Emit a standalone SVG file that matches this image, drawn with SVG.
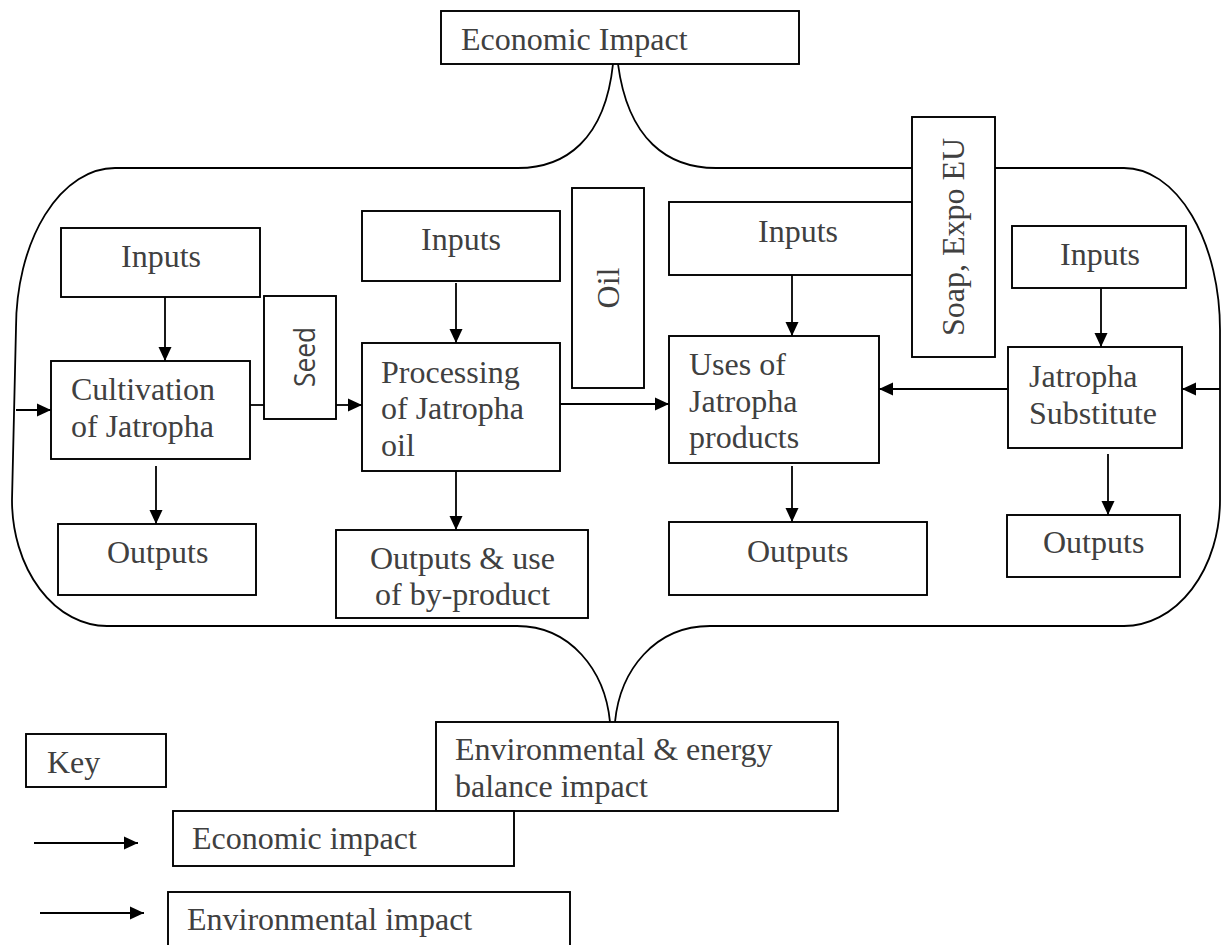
<svg xmlns="http://www.w3.org/2000/svg" width="1223" height="945" viewBox="0 0 1223 945">
<style>
.b{fill:#fff;stroke:#000;stroke-width:1.9}
.t{font-family:"Liberation Serif","Times New Roman",serif;font-size:32px;fill:#404040}
.s{font-family:"Open Sans","Liberation Sans",sans-serif;font-size:30px;fill:#404040}
.c{fill:none;stroke:#000;stroke-width:1.8}
.a{fill:none;stroke:#000;stroke-width:1.8;marker-end:url(#ah)}
</style>
<defs>
<marker id="ah" markerWidth="14" markerHeight="14" viewBox="0 0 14 14" refX="14" refY="7" orient="auto" markerUnits="userSpaceOnUse">
<path d="M0,0.5 L14,7 L0,13.5 Z" fill="#000"/>
</marker>
</defs>
<g id="brace">
<path class="c" d="M613,64 C605,140 565,168 518,168 L115,168 A99,160 0 0 0 16,328 L12,500 A95,126 0 0 0 107,626 L517,626 C570,626 605,670 610,722"/>
<path class="c" d="M618,64 C628,140 668,168 716,168 L1124,168 A96,162 0 0 1 1220,330 L1220,500 A96,126 0 0 1 1124,626 L710,626 C655,626 620,670 615,722"/>
</g>
<g id="connectors">
<line class="a" x1="165" y1="297" x2="165" y2="361"/>
<line class="a" x1="156" y1="466" x2="156" y2="524"/>
<line class="a" x1="16" y1="410" x2="51" y2="410"/>
<line class="c" x1="250" y1="405" x2="264" y2="405"/>
<line class="a" x1="336" y1="405" x2="362" y2="405"/>
<line class="a" x1="456" y1="283" x2="456" y2="343"/>
<line class="a" x1="456" y1="471" x2="456" y2="530"/>
<line class="a" x1="560" y1="404" x2="669" y2="404"/>
<line class="a" x1="792" y1="275" x2="792" y2="336"/>
<line class="a" x1="792" y1="466" x2="792" y2="522"/>
<line class="a" x1="1007" y1="389" x2="879" y2="389"/>
<line class="a" x1="1220" y1="389" x2="1182" y2="389"/>
<line class="a" x1="1101" y1="288" x2="1101" y2="347"/>
<line class="a" x1="1108" y1="454" x2="1108" y2="515"/>
<line class="a" x1="34" y1="843" x2="138" y2="843"/>
<line class="a" x1="40" y1="913" x2="144" y2="913"/>
</g>
<g id="economic-impact">
<rect class="b" x="441" y="11" width="358" height="53"/>
<text class="t" x="461" y="50">Economic Impact</text>
</g>
<g id="inputs1">
<rect class="b" x="61" y="228" width="199" height="69"/>
<text class="t" x="121" y="267">Inputs</text>
</g>
<g id="cultivation">
<rect class="b" x="51" y="361" width="199" height="98"/>
<text class="t" x="71" y="400">Cultivation</text>
<text class="t" x="71" y="437">of Jatropha</text>
</g>
<g id="seed">
<rect class="b" x="264" y="296" width="72" height="123"/>
<text class="s" x="303" y="357" text-anchor="middle" dominant-baseline="central" textLength="60" lengthAdjust="spacingAndGlyphs" transform="rotate(-90 303 357)">Seed</text>
</g>
<g id="outputs1">
<rect class="b" x="58" y="524" width="198" height="71"/>
<text class="t" x="107" y="563">Outputs</text>
</g>
<g id="inputs2">
<rect class="b" x="362" y="211" width="198" height="70"/>
<text class="t" x="421" y="250">Inputs</text>
</g>
<g id="processing">
<rect class="b" x="362" y="343" width="198" height="128"/>
<text class="t" x="381" y="383">Processing</text>
<text class="t" x="381" y="419">of Jatropha</text>
<text class="t" x="381" y="456">oil</text>
</g>
<g id="outputs2">
<rect class="b" x="336" y="530" width="252" height="88"/>
<text class="t" x="370" y="569">Outputs &amp; use</text>
<text class="t" x="375" y="605">of by-product</text>
</g>
<g id="oil">
<rect class="b" x="572" y="188" width="72" height="200"/>
<text class="t" x="608" y="288" text-anchor="middle" dominant-baseline="central" transform="rotate(-90 608 288)">Oil</text>
</g>
<g id="inputs3">
<rect class="b" x="669" y="202" width="243" height="73"/>
<text class="t" x="758" y="242">Inputs</text>
</g>
<g id="soap">
<rect class="b" x="912" y="117" width="83" height="240"/>
<text class="t" x="953" y="237" text-anchor="middle" dominant-baseline="central" transform="rotate(-90 953 237)">Soap, Expo EU</text>
</g>
<g id="uses">
<rect class="b" x="669" y="336" width="210" height="127"/>
<text class="t" x="689" y="375">Uses of</text>
<text class="t" x="689" y="412">Jatropha</text>
<text class="t" x="689" y="448">products</text>
</g>
<g id="outputs3">
<rect class="b" x="669" y="522" width="258" height="73"/>
<text class="t" x="747" y="562">Outputs</text>
</g>
<g id="inputs4">
<rect class="b" x="1012" y="226" width="174" height="62"/>
<text class="t" x="1060" y="265">Inputs</text>
</g>
<g id="substitute">
<rect class="b" x="1008" y="347" width="174" height="101"/>
<text class="t" x="1029" y="387">Jatropha</text>
<text class="t" x="1029" y="424">Substitute</text>
</g>
<g id="outputs4">
<rect class="b" x="1007" y="515" width="173" height="62"/>
<text class="t" x="1043" y="553">Outputs</text>
</g>
<g id="env-impact">
<rect class="b" x="436" y="722" width="402" height="89"/>
<text class="t" x="455" y="760">Environmental &amp; energy</text>
<text class="t" x="455" y="797">balance impact</text>
</g>
<g id="key">
<rect class="b" x="26" y="734" width="140" height="53"/>
<text class="t" x="47" y="773">Key</text>
</g>
<g id="key-economic">
<rect class="b" x="173" y="811" width="341" height="55"/>
<text class="t" x="192" y="849">Economic impact</text>
</g>
<g id="key-environmental">
<rect class="b" x="168" y="892" width="402" height="70"/>
<text class="t" x="187" y="930">Environmental impact</text>
</g>
</svg>
